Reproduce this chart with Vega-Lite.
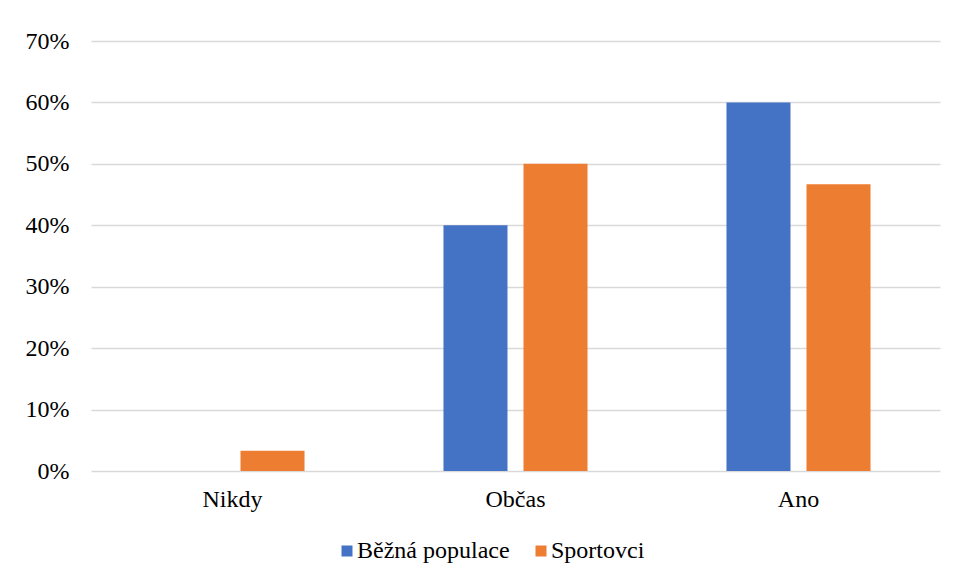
{
  "$schema": "https://vega.github.io/schema/vega-lite/v6.json",
  "width": 849,
  "height": 430,
  "autosize": {"type": "none"},
  "padding": {"left": 91, "top": 41, "right": 16, "bottom": 111},
  "background": "white",
  "data": {
    "values": [
      {"answer": "Nikdy", "group": "Běžná populace", "value": 0},
      {"answer": "Nikdy", "group": "Sportovci", "value": 0.033},
      {"answer": "Občas", "group": "Běžná populace", "value": 0.4},
      {"answer": "Občas", "group": "Sportovci", "value": 0.5},
      {"answer": "Ano", "group": "Běžná populace", "value": 0.6},
      {"answer": "Ano", "group": "Sportovci", "value": 0.467}
    ]
  },
  "mark": {"type": "bar"},
  "encoding": {
    "x": {
      "field": "answer",
      "type": "nominal",
      "sort": ["Nikdy", "Občas", "Ano"],
      "scale": {"paddingInner": 0.491, "paddingOuter": 0.2455},
      "axis": {
        "title": null,
        "labelAngle": 0,
        "ticks": false,
        "domain": false,
        "labelPadding": 16,
        "labelFontSize": 24,
        "labelColor": "#000000"
      }
    },
    "xOffset": {
      "field": "group",
      "type": "nominal",
      "sort": ["Běžná populace", "Sportovci"],
      "scale": {"paddingInner": 0.2, "paddingOuter": 0}
    },
    "y": {
      "field": "value",
      "type": "quantitative",
      "scale": {"domain": [0, 0.7]},
      "axis": {
        "values": [0, 0.1, 0.2, 0.3, 0.4, 0.5, 0.6, 0.7],
        "format": ".0%",
        "title": null,
        "ticks": false,
        "domain": false,
        "labelPadding": 22,
        "labelFontSize": 24,
        "labelColor": "#000000",
        "gridColor": "#d9d9d9",
        "gridWidth": 1.3
      }
    },
    "color": {
      "field": "group",
      "type": "nominal",
      "scale": {"domain": ["Běžná populace", "Sportovci"], "range": ["#4472C4", "#ED7D31"]},
      "legend": {
        "title": null,
        "orient": "none",
        "legendX": 244,
        "legendY": 498,
        "direction": "horizontal",
        "symbolType": "square",
        "symbolSize": 121,
        "symbolStrokeWidth": 0,
        "labelFontSize": 24,
        "labelColor": "#000000",
        "labelOffset": -2,
        "columnPadding": 19
      }
    }
  },
  "config": {
    "view": {"stroke": null},
    "font": "Liberation Serif, Times New Roman, serif",
    "axis": {"labelFont": "Liberation Serif, Times New Roman, serif"},
    "legend": {"labelFont": "Liberation Serif, Times New Roman, serif"}
  }
}
